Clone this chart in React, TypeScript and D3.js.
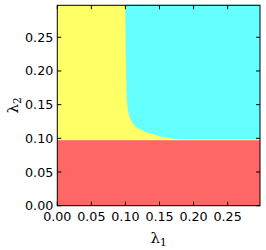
import React, { useEffect, useRef } from 'react';
import * as d3 from 'd3';

// boundary between the yellow and cyan regions
const boundaryL2 = [0.0976, 0.1001, 0.1024, 0.106, 0.1099, 0.1149, 0.1198, 0.1272, 0.1347, 0.1495, 0.1644, 0.2168, 0.2987];
const boundaryL1 = [0.18, 0.1653, 0.1532, 0.1408, 0.1287, 0.1188, 0.1125, 0.1081, 0.1052, 0.1027, 0.1018, 0.1008, 0.0998];
const redTop = 0.0972;
const axisMax = 0.2975;
const xTicks = [0, 0.05, 0.1, 0.15, 0.2, 0.25];
const yTicks = [0, 0.05, 0.1, 0.15, 0.2, 0.25];

const App = () => {
  const ref = useRef<SVGSVGElement>(null);

  useEffect(() => {
    const width = 266;
    const height = 250;
    const margin = { top: 5.3, right: 6, bottom: 44.3, left: 57.3 };

    const svg = d3.select(ref.current);
    svg.selectAll('*').remove();

    const x = d3.scaleLinear().domain([0, axisMax]).range([margin.left, width - margin.right]);
    const y = d3.scaleLinear().domain([0, axisMax]).range([height - margin.bottom, margin.top]);

    // yellow background region
    svg.append('rect')
      .attr('x', x(0)).attr('y', y(axisMax))
      .attr('width', x(axisMax) - x(0)).attr('height', y(0) - y(axisMax))
      .attr('fill', '#ffff66');

    // cyan region right of the boundary
    const pts = boundaryL2.map((v, i) => ({ l1: boundaryL1[i], l2: v }));
    const area = d3.area<{ l1: number; l2: number }>()
      .y(d => y(d.l2))
      .x0(d => x(d.l1))
      .x1(() => x(axisMax))
      .curve(d3.curveCatmullRom.alpha(0.5));
    svg.append('path').datum(pts).attr('d', area).attr('fill', '#66ffff');

    // thin light seam above the red band
    svg.append('rect')
      .attr('x', x(0)).attr('y', y(0.0985))
      .attr('width', x(axisMax) - x(0)).attr('height', y(redTop) - y(0.0985))
      .attr('fill', '#ffeeee');

    // red region
    svg.append('rect')
      .attr('x', x(0)).attr('y', y(redTop))
      .attr('width', x(axisMax) - x(0)).attr('height', y(0) - y(redTop))
      .attr('fill', '#ff6666');

    const g = svg.append('g').attr('stroke', '#000').attr('stroke-width', 1);
    const tl = 4;
    xTicks.forEach(t => {
      g.append('line').attr('x1', x(t)).attr('x2', x(t)).attr('y1', y(0)).attr('y2', y(0) - tl);
      g.append('line').attr('x1', x(t)).attr('x2', x(t)).attr('y1', y(axisMax)).attr('y2', y(axisMax) + tl);
    });
    yTicks.forEach(t => {
      g.append('line').attr('y1', y(t)).attr('y2', y(t)).attr('x1', x(0)).attr('x2', x(0) + tl);
      g.append('line').attr('y1', y(t)).attr('y2', y(t)).attr('x1', x(axisMax)).attr('x2', x(axisMax) - tl);
    });

    svg.append('rect')
      .attr('x', x(0)).attr('y', y(axisMax))
      .attr('width', x(axisMax) - x(0)).attr('height', y(0) - y(axisMax))
      .attr('fill', 'none').attr('stroke', '#000').attr('stroke-width', 1);

    const font = 'DejaVu Sans, sans-serif';
    svg.append('g').selectAll('text').data(xTicks).join('text')
      .attr('x', d => x(d)).attr('y', y(0) + 15)
      .attr('text-anchor', 'middle')
      .attr('font-family', font).attr('font-size', 12.7)
      .text(d => d.toFixed(2));

    svg.append('g').selectAll('text').data(yTicks).join('text')
      .attr('x', x(0) - 4).attr('y', d => y(d) + 4.5)
      .attr('text-anchor', 'end')
      .attr('font-family', font).attr('font-size', 12.7)
      .text(d => d.toFixed(2));

    const xl = svg.append('text')
      .attr('x', (x(0) + x(axisMax)) / 2).attr('y', 243)
      .attr('text-anchor', 'middle')
      .attr('font-family', 'DejaVu Serif, serif').attr('font-size', 15);
    xl.append('tspan').text('λ');
    xl.append('tspan').attr('font-size', 10.5).attr('dy', 3).text('1');

    const yl = svg.append('text')
      .attr('transform', `translate(18,${(y(0) + y(axisMax)) / 2}) rotate(-90)`)
      .attr('text-anchor', 'middle')
      .attr('font-family', 'DejaVu Serif, serif').attr('font-size', 15);
    yl.append('tspan').text('λ');
    yl.append('tspan').attr('font-size', 10.5).attr('dy', 3).text('2');
  }, []);

  return (
    <svg ref={ref} width={266} height={250}
      style={{ position: 'absolute', left: 0, top: 0, background: '#fff' }} />
  );
};

export default App;
